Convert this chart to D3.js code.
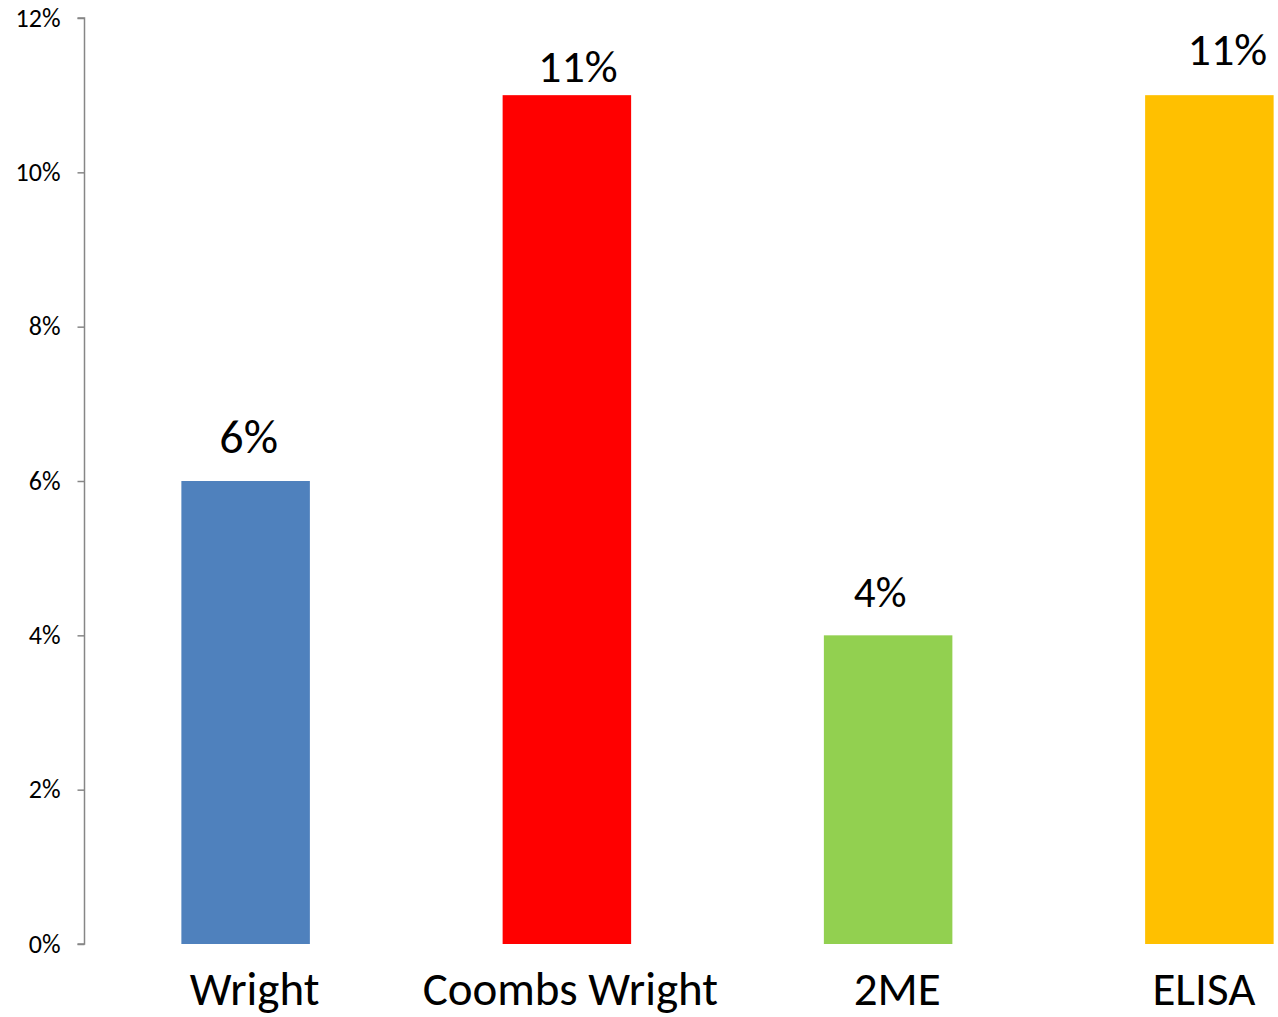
<!DOCTYPE html>
<html>
<head>
<meta charset="utf-8">
<script src="https://cdn.jsdelivr.net/npm/d3@7"></script>
<style>
  html, body { margin: 0; padding: 0; background: #fff; }
  svg { display: block; font-family: Carlito, Lato, "Open Sans", sans-serif; }
</style>
</head>
<body>
<svg id="chart" width="1278" height="1017"></svg>
<script>
// Positivity rate by test method
const categories = ["Wright", "Coombs Wright", "2ME", "ELISA"];
const values = [0.06, 0.11, 0.04, 0.11];
const valueLabels = ["6%", "11%", "4%", "11%"];
const barColors = ["#4F81BD", "#FF0000", "#92D050", "#FFC000"];
const yTicks = [0, 0.02, 0.04, 0.06, 0.08, 0.10, 0.12];

// label typography per bar (size, horizontal nudge, gap above bar)
const labelSize = [48, 46, 43, 46];
const labelDx = [3, 11, -8, 18];
const labelGap = [28, 13, 28, 30];

const svg = d3.select("#chart");
const axisX = 84.5;
const plotTop = 18, plotBottom = 944;

const x = d3.scaleBand()
  .domain(categories)
  .range([85, 1370])
  .paddingInner(0.6)
  .paddingOuter(0.3);

const y = d3.scaleLinear().domain([0, 0.12]).range([plotBottom, plotTop]);

// y axis
const yAxis = d3.axisLeft(y)
  .tickValues(yTicks)
  .tickFormat(d3.format(".0%"))
  .tickSize(7)
  .tickPadding(17);

const gy = svg.append("g")
  .attr("transform", `translate(${axisX},0)`)
  .call(yAxis);
gy.select(".domain").attr("stroke", "#868686").attr("stroke-width", 1.5)
  .attr("d", `M-7,${plotTop}H0V${plotBottom}H-7`);
gy.selectAll(".tick line").attr("stroke", "#868686").attr("stroke-width", 1.5);
gy.selectAll(".tick text")
  .attr("fill", "#000")
  .style("font-family", "Carlito, Lato, 'Open Sans', sans-serif")
  .style("font-size", "26px");

// bars
svg.append("g").selectAll("rect")
  .data(categories)
  .join("rect")
  .attr("x", d => x(d))
  .attr("width", x.bandwidth())
  .attr("y", (d, i) => y(values[i]))
  .attr("height", (d, i) => plotBottom - y(values[i]))
  .attr("fill", (d, i) => barColors[i]);

// value labels
svg.append("g").selectAll("text")
  .data(categories)
  .join("text")
  .attr("x", (d, i) => x(d) + x.bandwidth() / 2 + labelDx[i])
  .attr("y", (d, i) => y(values[i]) - labelGap[i])
  .attr("text-anchor", "middle")
  .style("font-size", (d, i) => labelSize[i] + "px")
  .attr("fill", "#000")
  .text((d, i) => valueLabels[i]);

// category labels
const catDx = [9, 3.5, 9, -5.5];
svg.append("g").selectAll("text")
  .data(categories)
  .join("text")
  .attr("x", (d, i) => x(d) + x.bandwidth() / 2 + catDx[i])
  .attr("y", 1005)
  .attr("text-anchor", "middle")
  .style("font-size", "47px")
  .attr("fill", "#000")
  .text(d => d);
</script>
</body>
</html>
